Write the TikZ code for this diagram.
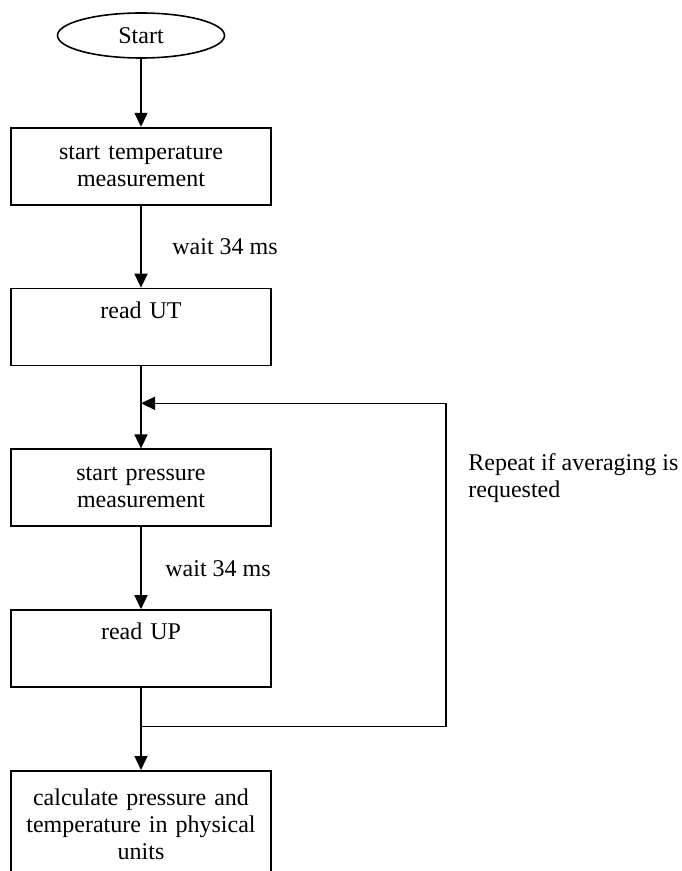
\documentclass[tikz,border=0pt]{standalone}
\usepackage{fontspec}
\setmainfont{Liberation Serif}
\usetikzlibrary{arrows.meta,positioning,shapes,calc}
\tikzset{
    %Define standard arrow tip
    >={Triangle[length=7pt,width=6.5pt]},
    %Define style for boxes
    stepbox/.style={
           rectangle,
           draw=black, line width=0.9pt,
           text width=120pt,
           minimum width=130pt,
           minimum height=38.5pt,
           text centered},
    % one-line boxes keep their text near the top
    readbox/.style={
           stepbox,
           text depth=17pt},
    % Define style for the start node
    terminal/.style={
           ellipse,
           draw=black, line width=0.8pt,
           minimum width=83.5pt,
           minimum height=22.5pt},
    % Define style for the loop note
    note/.style={
           align=left,
           anchor=west,
           inner sep=0pt},
    % Define arrow style
    pil/.style={
           ->,
           line width=0.75pt}
}

\begin{document}
\begin{tikzpicture}[node distance=41pt, font=\fontsize{12}{13.5}\selectfont]
        \useasboundingbox (0,0) rectangle (340.5pt,-435.5pt);
        %nodes

        % start node
        \node[terminal]
        (start) at (70.5pt,-17.75pt)
        {Start}
        ;

        % start temperature measurement node
        \node[stepbox, below=34pt of start]
        (starttemp)
        {start temperature\\ measurement}
        ;

        % read UT node
        \node[readbox, below=of starttemp]
        (readut)
        {read UT}
        ;

        % start pressure measurement node
        \node[stepbox, below=of readut]
        (startpress)
        {start pressure\\ measurement}
        ;

        % read UP node
        \node[readbox, below=of startpress]
        (readup)
        {read UP}
        ;

        % calculate node
        \node[stepbox, below=of readup, minimum height=53pt]
        (calc)
        {calculate pressure and\\ temperature in physical\\ units}
        ;

        % loop coordinates
        \coordinate (merge) at ($(readut.south)!0.45!(startpress.north)$);
        \coordinate (split) at ($(readup.south)!0.47!(calc.north)$);
        \coordinate (loopcorner) at ($(split)+(152.5pt,0)$);

        % loop note
        \node[note]
        (repeat) at ($(merge)+(163.5pt,-37.5pt)$)
        {Repeat if averaging is\\ requested}
        ;

        % Start and temperature measurement
        \draw[pil]
        (start) edge
        (starttemp)
        ;

        % temperature measurement and read UT
        \draw[pil]
        (starttemp) edge node[right, xshift=12pt]
            {wait 34 ms}
        (readut)
        ;

        % read UT and pressure measurement
        \draw[pil]
        (readut) edge
        (startpress)
        ;

        % pressure measurement and read UP
        \draw[pil]
        (startpress) edge node[right, xshift=8.5pt]
            {wait 34 ms}
        (readup)
        ;

        % read UP and calculate
        \draw[pil]
        (readup) edge
        (calc)
        ;

        % repeat loop
        \draw[pil]
        (split) -- (loopcorner) |- (merge)
        ;

    \end{tikzpicture}
\end{document}
